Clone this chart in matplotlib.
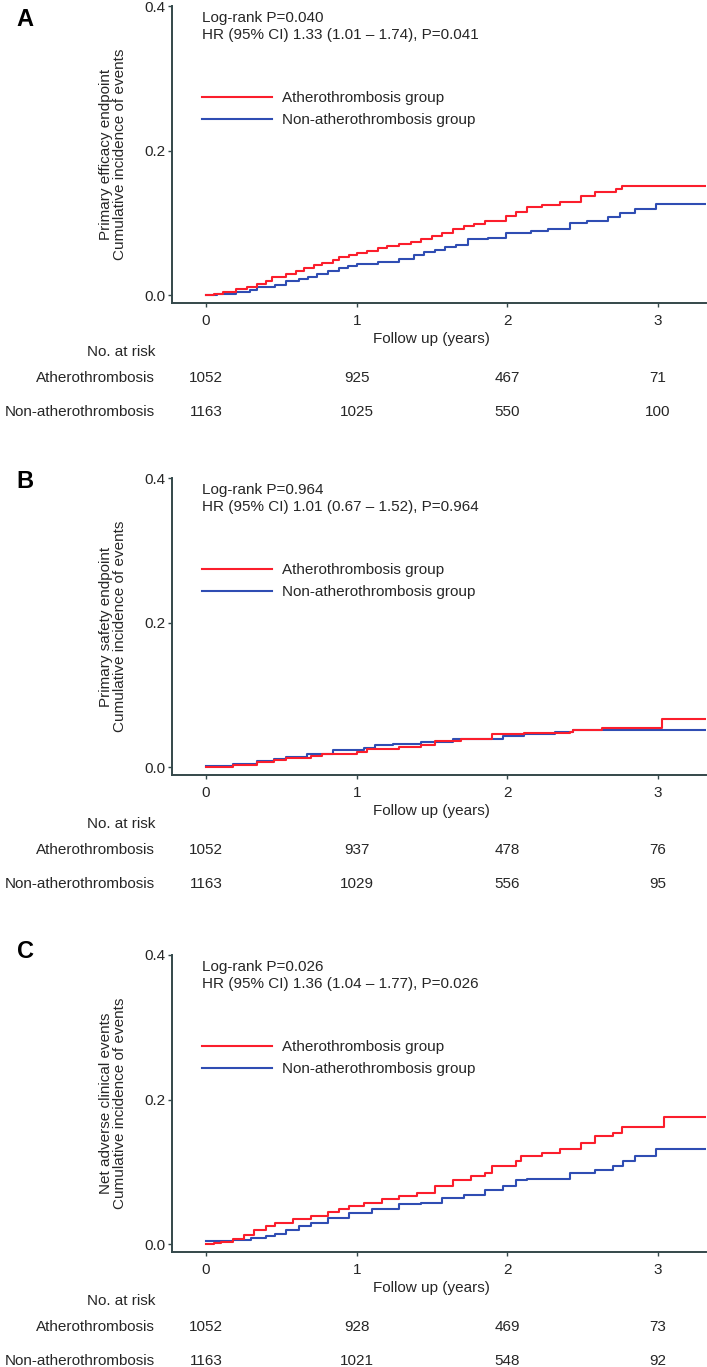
import matplotlib
matplotlib.use('Agg')
import matplotlib.pyplot as plt

plt.rcParams['font.family'] = ['Liberation Sans', 'DejaVu Sans']

# ---- data ----
panels = ['A', 'B', 'C']
endpoints = ['Primary efficacy endpoint', 'Primary safety endpoint', 'Net adverse clinical events']
logrank = ['Log-rank P=0.040', 'Log-rank P=0.964', 'Log-rank P=0.026']
hr_text = ['HR (95% CI) 1.33 (1.01 \u2013 1.74), P=0.041',
           'HR (95% CI) 1.01 (0.67 \u2013 1.52), P=0.964',
           'HR (95% CI) 1.36 (1.04 \u2013 1.77), P=0.026']
groups = ['Atherothrombosis group', 'Non-atherothrombosis group']
risk_rows = ['Atherothrombosis', 'Non-atherothrombosis']
risk_times = [0, 1, 2, 3]

# panel A
a_red_t = [0, 0.05, 0.11, 0.2, 0.27, 0.34, 0.4, 0.44, 0.53, 0.6, 0.65, 0.72, 0.77, 0.84, 0.88, 0.95,
           1.0, 1.07, 1.14, 1.2, 1.28, 1.36, 1.43, 1.5, 1.57, 1.64, 1.71, 1.78, 1.85, 1.99, 2.06, 2.13,
           2.23, 2.35, 2.49, 2.58, 2.72, 2.76, 3.32]
a_red_v = [0, 0.002, 0.004, 0.008, 0.011, 0.015, 0.02, 0.025, 0.029, 0.033, 0.037, 0.041, 0.044, 0.048,
           0.052, 0.055, 0.058, 0.061, 0.065, 0.068, 0.071, 0.074, 0.078, 0.082, 0.086, 0.091, 0.096,
           0.099, 0.103, 0.109, 0.115, 0.122, 0.124, 0.129, 0.137, 0.142, 0.147, 0.151, 0.151]
a_blue_t = [0, 0.07, 0.2, 0.295, 0.34, 0.46, 0.53, 0.62, 0.68, 0.74, 0.81, 0.88, 0.94, 1.0, 1.14, 1.28,
            1.38, 1.45, 1.52, 1.59, 1.66, 1.74, 1.87, 1.99, 2.16, 2.27, 2.42, 2.53, 2.67, 2.75, 2.85,
            2.99, 3.32]
a_blue_v = [0, 0.002, 0.004, 0.007, 0.0115, 0.014, 0.02, 0.022, 0.025, 0.029, 0.033, 0.037, 0.040,
            0.0425, 0.046, 0.05, 0.055, 0.059, 0.063, 0.066, 0.069, 0.077, 0.079, 0.086, 0.089, 0.092,
            0.0998, 0.103, 0.1076, 0.1136, 0.119, 0.126, 0.126]
a_risk = [[1052, 925, 467, 71], [1163, 1025, 550, 100]]

# panel B
b_red_t = [0, 0.18, 0.34, 0.45, 0.53, 0.70, 0.77, 1.0, 1.07, 1.28, 1.43, 1.52, 1.69, 1.90, 2.11, 2.42,
           2.44, 2.63, 3.03, 3.32]
b_red_v = [0, 0.0023, 0.007, 0.01, 0.0125, 0.0148, 0.0185, 0.0208, 0.0254, 0.0277, 0.031, 0.036, 0.039,
           0.0453, 0.047, 0.049, 0.0517, 0.054, 0.067, 0.067]
b_blue_t = [0, 0.18, 0.34, 0.45, 0.53, 0.67, 0.84, 1.05, 1.12, 1.24, 1.43, 1.64, 1.97, 2.11, 2.32, 2.44,
            2.63, 3.32]
b_blue_v = [0.002, 0.0046, 0.0079, 0.011, 0.0143, 0.0185, 0.023, 0.0263, 0.030, 0.0323, 0.0346, 0.039,
            0.0425, 0.046, 0.049, 0.051, 0.051, 0.051]
b_risk = [[1052, 937, 478, 76], [1163, 1029, 556, 95]]

# panel C
c_red_t = [0, 0.05, 0.1, 0.18, 0.25, 0.32, 0.40, 0.46, 0.58, 0.70, 0.81, 0.88, 0.95, 1.05, 1.17, 1.28,
           1.40, 1.52, 1.64, 1.76, 1.85, 1.90, 2.06, 2.09, 2.23, 2.35, 2.49, 2.58, 2.70, 2.76, 3.04, 3.32]
c_red_v = [0, 0.001, 0.003, 0.007, 0.013, 0.020, 0.025, 0.029, 0.034, 0.0385, 0.044, 0.048, 0.052, 0.057,
           0.062, 0.066, 0.071, 0.080, 0.089, 0.094, 0.0985, 0.108, 0.1147, 0.1216, 0.126, 0.131, 0.140,
           0.149, 0.153, 0.162, 0.1755, 0.1755]
c_blue_t = [0, 0.18, 0.3, 0.4, 0.46, 0.53, 0.62, 0.70, 0.81, 0.95, 1.10, 1.28, 1.43, 1.57, 1.71, 1.85,
            1.97, 2.06, 2.13, 2.42, 2.58, 2.70, 2.77, 2.85, 2.99, 3.32]
c_blue_v = [0.004, 0.006, 0.009, 0.0115, 0.014, 0.020, 0.025, 0.029, 0.036, 0.043, 0.049, 0.055, 0.057,
            0.064, 0.0685, 0.075, 0.080, 0.088, 0.090, 0.099, 0.103, 0.108, 0.1147, 0.1216, 0.132, 0.132]
c_risk = [[1052, 928, 469, 73], [1163, 1021, 548, 92]]

curves = [(a_red_t, a_red_v, a_blue_t, a_blue_v),
          (b_red_t, b_red_v, b_blue_t, b_blue_v),
          (c_red_t, c_red_v, c_blue_t, c_blue_v)]
risks = [a_risk, b_risk, c_risk]

RED = '#fb1e2c'
BLUE = '#2f4db3'
TXT = '#262626'
AX = '#34484a'
FS = 11

W, H = 707, 1367
fig = plt.figure(figsize=(W / 100, H / 100), dpi=100)

ax_left, ax_w, ax_h = 172 / W, 534 / W, 297 / H
spine_px = [303, 775, 1252]
letter_px = [20, 481, 952]


def below(ax, x, px, s, ha='center', dx=0):
    ax.annotate(s, xy=(x, 0), xycoords=('data', 'axes fraction'),
                xytext=(dx * 0.72, -px * 0.72), textcoords='offset points',
                ha=ha, va='center', fontsize=FS, color=TXT, annotation_clip=False)


for i in range(3):
    ax = fig.add_axes([ax_left, 1 - spine_px[i] / H, ax_w, ax_h])
    rt, rv, bt, bv = curves[i]
    ax.step(rt, rv, where='post', color=RED, lw=1.5, label=groups[0], zorder=3)
    ax.step(bt, bv, where='post', color=BLUE, lw=1.5, label=groups[1], zorder=2)

    ax.set_xlim(-0.226, 3.32)
    ax.set_ylim(-0.011, 0.4)
    ax.set_xticks(risk_times)
    ax.set_yticks([0.0, 0.2, 0.4])
    ax.set_yticklabels(['0.0', '0.2', '0.4'])
    for s in ['top', 'right']:
        ax.spines[s].set_visible(False)
    for s in ['left', 'bottom']:
        ax.spines[s].set_color(AX)
        ax.spines[s].set_linewidth(1.4)
    ax.tick_params(axis='both', colors=AX, labelcolor=TXT, labelsize=FS, length=3, width=1)
    ax.tick_params(axis='y', pad=1.5)
    ax.tick_params(axis='x', pad=5)

    ax.set_ylabel(endpoints[i] + '\nCumulative incidence of events', fontsize=FS, color=TXT,
                  linespacing=1.05)
    ax.yaxis.set_label_coords(-0.084, 0.5)

    ax.text(0.056, 1 - 12 / 297, logrank[i], transform=ax.transAxes, fontsize=FS, color=TXT,
            va='center', ha='left')
    ax.text(0.056, 1 - 29 / 297, hr_text[i], transform=ax.transAxes, fontsize=FS, color=TXT,
            va='center', ha='left')

    ax.legend(loc='upper left', bbox_to_anchor=(0.056, 1 - 85 / 297), frameon=False, borderpad=0,
              borderaxespad=0, handlelength=4.6, handletextpad=0.65, labelspacing=0.52, fontsize=FS,
              labelcolor=TXT)

    # x label and number-at-risk table
    below(ax, 1.5, 36, 'Follow up (years)')
    below(ax, 0, 49, 'No. at risk', ha='right', dx=-51)
    for r, row in enumerate(risks[i]):
        yoff = [75, 109][r]
        below(ax, 0, yoff, risk_rows[r], ha='right', dx=-51)
        for t, n in zip(risk_times, row):
            below(ax, t, yoff, str(n))

    fig.text(25 / W, 1 - letter_px[i] / H, panels[i], fontsize=17, fontweight='bold', color='black',
             ha='center', va='center')

fig.savefig('out.png', dpi=100)
